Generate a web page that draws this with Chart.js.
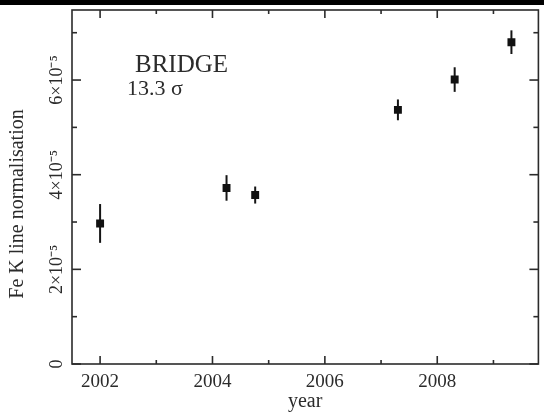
<!DOCTYPE html>
<html>
<head>
<meta charset="utf-8">
<script src="https://cdn.jsdelivr.net/npm/chart.js@4"></script>
<style>
  html, body { margin: 0; padding: 0; background: #fff; }
  #wrap { position: relative; width: 544px; height: 415px; }
  #topbar { position: absolute; left: 0; top: 0; width: 544px; height: 5px; background: #000; }
</style>
</head>
<body>
<div id="wrap">
  <canvas id="chart" width="544" height="415"></canvas>
  <div id="topbar"></div>
</div>
<script>
// observation epochs and Fe K line normalisation (with 1-sigma errors)
var years = [2002.0, 2004.25, 2004.76, 2007.30, 2008.31, 2009.32];
var norm = [2.97e-5, 3.72e-5, 3.57e-5, 5.37e-5, 6.01e-5, 6.80e-5];
var normErr = [0.41e-5, 0.27e-5, 0.18e-5, 0.22e-5, 0.26e-5, 0.25e-5];

var xTicks = [2002, 2004, 2006, 2008];
var xMinor = [2003, 2005, 2007, 2009];
var yTicks = [0, 2e-5, 4e-5, 6e-5];
var yMinor = [1e-5, 3e-5, 5e-5, 7e-5];
var yTickLabels = ['0', '2×10⁻⁵', '4×10⁻⁵', '6×10⁻⁵'];
var yTitle = 'Fe K line normalisation';

var serif = 'Liberation Serif';
var ink = '#2b2b2b';

var errBars = {
  id: 'errBars',
  beforeDatasetsDraw: function(chart) {
    var ctx = chart.ctx, xs = chart.scales.x, ys = chart.scales.y;
    ctx.save();
    ctx.strokeStyle = '#151515';
    ctx.lineWidth = 2;
    years.forEach(function(yr, i) {
      var px = xs.getPixelForValue(yr);
      ctx.beginPath();
      ctx.moveTo(px, ys.getPixelForValue(norm[i] - normErr[i]));
      ctx.lineTo(px, ys.getPixelForValue(norm[i] + normErr[i]));
      ctx.stroke();
    });
    ctx.restore();
  }
};

// box round the plot with inward ticks on all four sides, plus the labels
var frame = {
  id: 'frame',
  afterDraw: function(chart) {
    var ctx = chart.ctx, a = chart.chartArea, xs = chart.scales.x, ys = chart.scales.y;
    ctx.save();
    ctx.strokeStyle = ink;
    ctx.lineWidth = 1.6;
    ctx.strokeRect(a.left, a.top, a.right - a.left, a.bottom - a.top);
    function seg(x1, y1, x2, y2) { ctx.beginPath(); ctx.moveTo(x1, y1); ctx.lineTo(x2, y2); ctx.stroke(); }
    xTicks.forEach(function(v) { var p = xs.getPixelForValue(v); seg(p, a.bottom, p, a.bottom - 8); seg(p, a.top, p, a.top + 8); });
    xMinor.forEach(function(v) { var p = xs.getPixelForValue(v); seg(p, a.bottom, p, a.bottom - 4); seg(p, a.top, p, a.top + 4); });
    yTicks.forEach(function(v) { var p = ys.getPixelForValue(v); seg(a.left, p, a.left + 9, p); seg(a.right, p, a.right - 9, p); });
    yMinor.forEach(function(v) { var p = ys.getPixelForValue(v); seg(a.left, p, a.left + 5, p); seg(a.right, p, a.right - 5, p); });

    ctx.fillStyle = ink;
    ctx.textAlign = 'left';
    ctx.textBaseline = 'alphabetic';
    ctx.font = '25px "' + serif + '"';
    ctx.fillText('BRIDGE', 135, 72);
    ctx.font = '22px "' + serif + '"';
    ctx.fillText('13.3 σ', 127, 95);

    // y axis title, a little below the middle of the axis as in the original
    ctx.translate(18, 204);
    ctx.rotate(-Math.PI / 2);
    ctx.textAlign = 'center';
    ctx.textBaseline = 'middle';
    ctx.font = '20px "' + serif + '"';
    ctx.fillText(yTitle, 0, 0);
    ctx.restore();
  }
};

var canvas = document.getElementById('chart');
var config = {
  type: 'scatter',
  data: {
    datasets: [{
      label: 'BRIDGE',
      data: years.map(function(yr, i) { return {x: yr, y: norm[i]}; }),
      pointStyle: 'rect',
      pointRadius: 5.6,
      pointHoverRadius: 5.6,
      borderWidth: 0,
      backgroundColor: '#111',
      borderColor: '#111'
    }]
  },
  options: {
    responsive: false,
    animation: false,
    devicePixelRatio: 1,
    layout: {padding: {top: 10, right: 0, left: 0, bottom: 0}},
    plugins: {legend: {display: false}, tooltip: {enabled: false}},
    events: [],
    scales: {
      x: {
        type: 'linear',
        min: 2001.5,
        max: 2009.8,
        afterBuildTicks: function(s) { s.ticks = xTicks.map(function(v) { return {value: v}; }); },
        afterFit: function(s) { s.height = 51; },
        grid: {display: false},
        border: {display: false},
        ticks: {
          color: ink, padding: -1, maxRotation: 0, autoSkip: false,
          font: {family: serif, size: 19},
          callback: function(v) { return String(v); }
        },
        title: {display: true, text: 'year', color: ink, font: {family: serif, size: 20}, padding: {top: 0, bottom: 1}}
      },
      y: {
        type: 'linear',
        min: 0,
        max: 7.48e-5,
        afterBuildTicks: function(s) { s.ticks = yTicks.map(function(v) { return {value: v}; }); },
        afterFit: function(s) { s.width = 72; },
        grid: {display: false},
        border: {display: false},
        ticks: {
          color: ink, padding: -18, minRotation: 90, maxRotation: 90, crossAlign: 'center', autoSkip: false,
          font: {family: serif, size: 18},
          callback: function(v, i) { return yTickLabels[i]; }
        },
        title: {display: false}
      }
    }
  },
  plugins: [errBars, frame]
};
var chart = new Chart(canvas, config);
</script>
</body>
</html>
